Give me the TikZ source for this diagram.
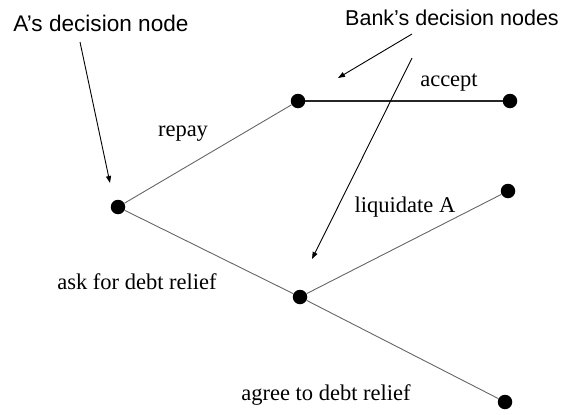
\documentclass[tikz,border=0pt]{standalone}
\usepackage{fontspec}
\setmainfont{Liberation Serif}
\newfontfamily\labsans{Liberation Sans}
\usetikzlibrary{arrows.meta}
\begin{document}
\begin{tikzpicture}[x=1pt,y=-1pt,
  dot/.style={circle,fill=black,inner sep=0pt,minimum size=14.5pt},
  branch/.style={draw=black!60,line width=0.9pt},
  pointer/.style={draw=black,line width=0.9pt,-{Triangle[length=7pt,width=5pt]}},
  serif/.style={font=\fontsize{22.5}{26}\selectfont,inner sep=0pt},
  sans/.style={font=\labsans\fontsize{21.5}{26}\selectfont,inner sep=0pt}]
\useasboundingbox (0,0) rectangle (571,415);
\node[dot] (a) at (118,207) {};
\node[dot] (b1) at (298,101) {};
\node[dot] (b2) at (300,297) {};
\node[dot] (acc) at (510,101) {};
\node[dot] (liq) at (508,191) {};
\node[dot] (agr) at (505,402) {};
\draw[branch] (a) -- (b1);
\draw[branch] (a) -- (b2);
\draw[draw=black!85,line width=1.1pt] (b1) -- (acc);
\draw[branch] (b2) -- (liq);
\draw[branch] (b2) -- (agr);
\node[serif] (repay) at (183,134) {repay};
\node[serif] (accept) at (449,83) {accept};
\node[serif] (liqA) at (405,207) {liquidate A};
\node[serif] (ask) at (137,282) {ask for debt relief};
\node[serif] (agree) at (326,395) {agree to debt relief};
\node[sans,font=\labsans\fontsize{22.6}{26}\selectfont] (alab) at (101,23) {A’s decision node};
\node[sans] (blab) at (452,18) {Bank’s decision nodes};
\coordinate (a0) at (80,42);
\coordinate (a1) at (110,183);
\coordinate (p0) at (412,34);
\coordinate (p1) at (338,78);
\coordinate (q0) at (412,58);
\coordinate (q1) at (312,259);
\draw[pointer] (a0) -- (a1);
\draw[pointer] (p0) -- (p1);
\draw[pointer] (q0) -- (q1);
\end{tikzpicture}
\end{document}
